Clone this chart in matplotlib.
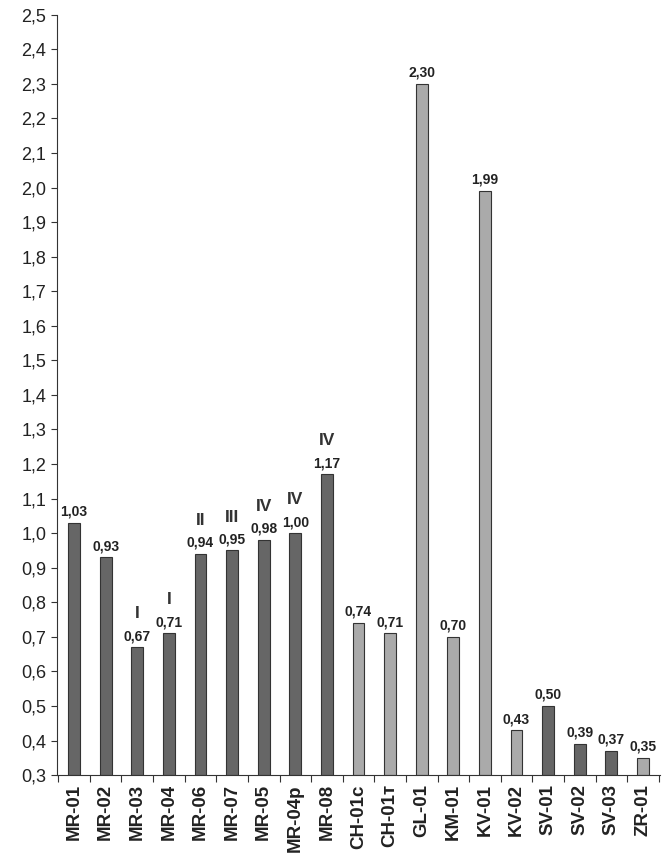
import matplotlib.pyplot as plt
import numpy as np

plt.rcParams['font.family'] = ['Liberation Sans', 'DejaVu Sans']

names = ['MR-01', 'MR-02', 'MR-03', 'MR-04', 'MR-06', 'MR-07', 'MR-05', 'MR-04p', 'MR-08',
         'CH-01c', 'CH-01т', 'GL-01', 'KM-01', 'KV-01', 'KV-02', 'SV-01', 'SV-02', 'SV-03', 'ZR-01']
values = [1.03, 0.93, 0.67, 0.71, 0.94, 0.95, 0.98, 1.00, 1.17,
          0.74, 0.71, 2.30, 0.70, 1.99, 0.43, 0.50, 0.39, 0.37, 0.35]
light = [0, 0, 0, 0, 0, 0, 0, 0, 0, 1, 1, 1, 1, 1, 1, 0, 0, 0, 1]
roman = ['', '', 'I', 'I', 'II', 'III', 'IV', 'IV', 'IV', '', '', '', '', '', '', '', '', '', '']

fig = plt.figure(figsize=(6.67, 8.67), dpi=100)
ax = fig.add_axes([0.085, 0.106, 0.905, 0.877])

x = np.arange(len(names))
colors = ['#aaaaaa' if l else '#666666' for l in light]
ax.bar(x, [v - 0.3 for v in values], bottom=0.3, width=0.37, color=colors,
       edgecolor='#333333', linewidth=0.8)

for xi, v, r in zip(x, values, roman):
    ax.text(xi, v + 0.012, f'{v:.2f}'.replace('.', ','), ha='center', va='bottom',
            fontsize=10, fontweight='bold', color='#222222')
    if r:
        ax.text(xi, v + 0.075, r, ha='center', va='bottom', fontsize=12.5,
                fontweight='bold', color='#333333')

ax.set_xlim(-0.55, len(names) - 0.45)
ax.set_ylim(0.3, 2.5)
ticks = np.arange(0.3, 2.51, 0.1)
ax.set_yticks(ticks)
ax.set_yticklabels([f'{t:.1f}'.replace('.', ',') for t in ticks], fontsize=13, color='#222222')
ax.set_xticks(np.arange(-0.5, len(names), 1.0))
ax.set_xticklabels([])
ax.tick_params(axis='x', length=5, color='#333333')
ax.tick_params(axis='y', length=4, color='#333333')
for s in ['top', 'right']:
    ax.spines[s].set_visible(False)
for s in ['left', 'bottom']:
    ax.spines[s].set_color('#333333')

for xi, n in zip(x, names):
    ax.text(xi, -0.012, n, transform=ax.get_xaxis_transform(), rotation=90,
            ha='center', va='top', fontsize=13.5, fontweight='bold', color='#222222')

fig.savefig('out.png', dpi=100)
